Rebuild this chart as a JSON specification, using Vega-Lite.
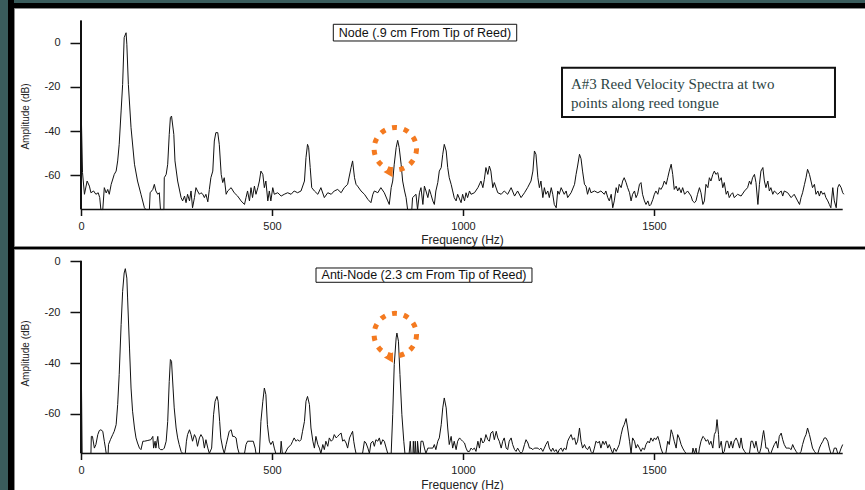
{
  "$schema": "https://vega.github.io/schema/vega-lite/v6.json",
  "background": "#000000",
  "padding": 0,
  "config": {"font": "Liberation Sans", "view": {"stroke": null}},
  "datasets": {
    "node": [
      {"hz":0,"db":-26.4},{"hz":4,"db":-58.8},{"hz":9,"db":-68.6},{"hz":16,"db":-62.6},{"hz":22,"db":-64.9},{"hz":26,"db":-67.9},{"hz":33,"db":-67.1},{"hz":39,"db":-68.6},{"hz":45,"db":-67.9},{"hz":49,"db":-70.1},{"hz":52,"db":-75.5},{"hz":57,"db":-75.5},{"hz":61,"db":-65.6},{"hz":66,"db":-68.0},{"hz":70,"db":-66.4},{"hz":74,"db":-68.6},{"hz":79,"db":-64.1},{"hz":87,"db":-59.6},{"hz":92,"db":-58.1},{"hz":96,"db":-53.5},{"hz":100,"db":-46.0},{"hz":105,"db":-30.9},{"hz":109,"db":-18.9},{"hz":113,"db":2.3},{"hz":118,"db":4.5},{"hz":120,"db":-0.7},{"hz":124,"db":-18.9},{"hz":131,"db":-38.5},{"hz":140,"db":-55.0},{"hz":148,"db":-62.6},{"hz":157,"db":-68.6},{"hz":166,"db":-74.7},{"hz":170,"db":-75.5},{"hz":179,"db":-75.5},{"hz":181,"db":-67.9},{"hz":188,"db":-66.4},{"hz":192,"db":-64.1},{"hz":196,"db":-67.1},{"hz":201,"db":-68.6},{"hz":205,"db":-67.9},{"hz":208,"db":-75.5},{"hz":217,"db":-75.5},{"hz":218,"db":-61.1},{"hz":223,"db":-59.6},{"hz":227,"db":-55.0},{"hz":231,"db":-41.5},{"hz":234,"db":-33.9},{"hz":237,"db":-33.2},{"hz":243,"db":-41.5},{"hz":246,"db":-53.5},{"hz":253,"db":-62.6},{"hz":262,"db":-70.1},{"hz":266,"db":-71.6},{"hz":271,"db":-69.4},{"hz":275,"db":-72.4},{"hz":279,"db":-68.6},{"hz":284,"db":-71.6},{"hz":288,"db":-67.1},{"hz":292,"db":-74.7},{"hz":297,"db":-70.1},{"hz":301,"db":-65.6},{"hz":305,"db":-67.1},{"hz":310,"db":-68.6},{"hz":314,"db":-67.9},{"hz":319,"db":-68.6},{"hz":323,"db":-70.1},{"hz":327,"db":-68.6},{"hz":332,"db":-72.0},{"hz":336,"db":-66.4},{"hz":340,"db":-61.1},{"hz":345,"db":-58.1},{"hz":349,"db":-44.5},{"hz":353,"db":-40.7},{"hz":358,"db":-40.7},{"hz":362,"db":-46.0},{"hz":367,"db":-59.6},{"hz":371,"db":-63.3},{"hz":375,"db":-61.1},{"hz":380,"db":-68.6},{"hz":384,"db":-67.1},{"hz":393,"db":-65.6},{"hz":401,"db":-67.9},{"hz":410,"db":-69.4},{"hz":419,"db":-71.6},{"hz":428,"db":-73.2},{"hz":432,"db":-70.1},{"hz":436,"db":-67.1},{"hz":441,"db":-71.6},{"hz":445,"db":-65.6},{"hz":449,"db":-70.1},{"hz":454,"db":-64.9},{"hz":458,"db":-68.6},{"hz":463,"db":-65.6},{"hz":467,"db":-62.6},{"hz":471,"db":-58.1},{"hz":476,"db":-59.6},{"hz":480,"db":-65.6},{"hz":484,"db":-62.6},{"hz":489,"db":-71.6},{"hz":493,"db":-67.1},{"hz":497,"db":-71.6},{"hz":502,"db":-65.6},{"hz":506,"db":-68.6},{"hz":515,"db":-67.9},{"hz":524,"db":-69.4},{"hz":532,"db":-68.6},{"hz":541,"db":-67.9},{"hz":550,"db":-68.6},{"hz":558,"db":-67.1},{"hz":567,"db":-67.9},{"hz":576,"db":-67.1},{"hz":585,"db":-62.6},{"hz":589,"db":-52.0},{"hz":593,"db":-46.0},{"hz":596,"db":-47.5},{"hz":600,"db":-56.5},{"hz":604,"db":-65.6},{"hz":611,"db":-67.1},{"hz":620,"db":-68.6},{"hz":628,"db":-65.6},{"hz":637,"db":-70.1},{"hz":646,"db":-67.9},{"hz":655,"db":-68.6},{"hz":663,"db":-67.1},{"hz":672,"db":-66.4},{"hz":681,"db":-67.9},{"hz":689,"db":-65.6},{"hz":698,"db":-64.1},{"hz":707,"db":-56.5},{"hz":711,"db":-53.5},{"hz":716,"db":-61.1},{"hz":720,"db":-64.1},{"hz":724,"db":-64.9},{"hz":733,"db":-67.1},{"hz":742,"db":-68.6},{"hz":751,"db":-70.9},{"hz":759,"db":-72.4},{"hz":764,"db":-68.6},{"hz":768,"db":-67.1},{"hz":777,"db":-67.9},{"hz":785,"db":-65.6},{"hz":794,"db":-67.9},{"hz":803,"db":-71.6},{"hz":807,"db":-73.2},{"hz":812,"db":-65.6},{"hz":816,"db":-62.6},{"hz":820,"db":-55.0},{"hz":825,"db":-47.5},{"hz":829,"db":-44.2},{"hz":833,"db":-47.5},{"hz":838,"db":-55.0},{"hz":842,"db":-62.6},{"hz":847,"db":-67.1},{"hz":851,"db":-70.1},{"hz":855,"db":-75.5},{"hz":866,"db":-75.5},{"hz":868,"db":-70.1},{"hz":877,"db":-68.6},{"hz":881,"db":-75.5},{"hz":886,"db":-67.9},{"hz":890,"db":-65.6},{"hz":895,"db":-73.2},{"hz":899,"db":-64.9},{"hz":903,"db":-67.1},{"hz":908,"db":-70.1},{"hz":912,"db":-66.4},{"hz":916,"db":-68.6},{"hz":921,"db":-71.6},{"hz":925,"db":-73.2},{"hz":929,"db":-67.1},{"hz":934,"db":-63.3},{"hz":938,"db":-58.1},{"hz":943,"db":-56.5},{"hz":947,"db":-50.5},{"hz":951,"db":-46.0},{"hz":956,"db":-49.0},{"hz":960,"db":-56.5},{"hz":964,"db":-61.1},{"hz":969,"db":-64.1},{"hz":973,"db":-67.1},{"hz":977,"db":-70.1},{"hz":982,"db":-71.6},{"hz":986,"db":-68.6},{"hz":995,"db":-72.4},{"hz":999,"db":-68.6},{"hz":1004,"db":-71.6},{"hz":1008,"db":-67.9},{"hz":1012,"db":-70.1},{"hz":1017,"db":-67.1},{"hz":1021,"db":-68.6},{"hz":1030,"db":-67.9},{"hz":1039,"db":-65.6},{"hz":1047,"db":-62.6},{"hz":1052,"db":-65.6},{"hz":1056,"db":-61.8},{"hz":1060,"db":-56.5},{"hz":1065,"db":-59.6},{"hz":1069,"db":-55.8},{"hz":1073,"db":-58.1},{"hz":1078,"db":-65.6},{"hz":1082,"db":-63.3},{"hz":1091,"db":-67.9},{"hz":1100,"db":-68.6},{"hz":1108,"db":-67.1},{"hz":1117,"db":-68.6},{"hz":1126,"db":-65.6},{"hz":1135,"db":-69.4},{"hz":1143,"db":-67.1},{"hz":1152,"db":-70.1},{"hz":1161,"db":-67.9},{"hz":1169,"db":-65.6},{"hz":1178,"db":-62.6},{"hz":1183,"db":-58.1},{"hz":1187,"db":-49.0},{"hz":1191,"db":-50.5},{"hz":1196,"db":-61.1},{"hz":1200,"db":-65.6},{"hz":1204,"db":-62.6},{"hz":1209,"db":-70.1},{"hz":1213,"db":-65.6},{"hz":1217,"db":-68.6},{"hz":1222,"db":-67.1},{"hz":1226,"db":-70.1},{"hz":1231,"db":-65.6},{"hz":1235,"db":-68.6},{"hz":1239,"db":-73.2},{"hz":1244,"db":-74.7},{"hz":1248,"db":-67.1},{"hz":1252,"db":-68.6},{"hz":1257,"db":-65.6},{"hz":1261,"db":-67.1},{"hz":1265,"db":-68.6},{"hz":1270,"db":-67.1},{"hz":1274,"db":-70.1},{"hz":1283,"db":-67.9},{"hz":1292,"db":-64.1},{"hz":1296,"db":-59.6},{"hz":1300,"db":-55.8},{"hz":1305,"db":-50.5},{"hz":1309,"db":-52.5},
      {"hz":1313,"db":-58.1},{"hz":1318,"db":-64.1},{"hz":1322,"db":-64.9},{"hz":1326,"db":-68.6},{"hz":1331,"db":-65.6},{"hz":1335,"db":-67.9},{"hz":1344,"db":-67.1},{"hz":1353,"db":-67.9},{"hz":1361,"db":-67.1},{"hz":1370,"db":-68.6},{"hz":1374,"db":-67.1},{"hz":1379,"db":-70.1},{"hz":1383,"db":-71.6},{"hz":1388,"db":-68.6},{"hz":1392,"db":-74.7},{"hz":1396,"db":-71.6},{"hz":1401,"db":-65.6},{"hz":1405,"db":-67.9},{"hz":1409,"db":-64.1},{"hz":1414,"db":-65.6},{"hz":1418,"db":-62.6},{"hz":1422,"db":-61.1},{"hz":1427,"db":-63.3},{"hz":1431,"db":-65.6},{"hz":1436,"db":-67.9},{"hz":1440,"db":-71.6},{"hz":1444,"db":-68.6},{"hz":1449,"db":-67.1},{"hz":1453,"db":-70.1},{"hz":1457,"db":-68.6},{"hz":1462,"db":-64.1},{"hz":1466,"db":-63.3},{"hz":1470,"db":-68.6},{"hz":1475,"db":-71.6},{"hz":1479,"db":-73.2},{"hz":1484,"db":-71.6},{"hz":1488,"db":-73.9},{"hz":1492,"db":-73.2},{"hz":1497,"db":-70.9},{"hz":1501,"db":-68.6},{"hz":1505,"db":-67.1},{"hz":1510,"db":-68.6},{"hz":1514,"db":-65.6},{"hz":1518,"db":-66.4},{"hz":1523,"db":-64.9},{"hz":1527,"db":-62.6},{"hz":1532,"db":-64.1},{"hz":1536,"db":-61.1},{"hz":1540,"db":-58.1},{"hz":1545,"db":-55.0},{"hz":1549,"db":-59.6},{"hz":1553,"db":-66.4},{"hz":1558,"db":-64.9},{"hz":1562,"db":-67.1},{"hz":1566,"db":-65.6},{"hz":1571,"db":-67.9},{"hz":1575,"db":-65.6},{"hz":1580,"db":-68.6},{"hz":1588,"db":-67.1},{"hz":1597,"db":-69.4},{"hz":1601,"db":-71.6},{"hz":1606,"db":-72.4},{"hz":1610,"db":-71.6},{"hz":1614,"db":-68.6},{"hz":1619,"db":-65.6},{"hz":1623,"db":-67.9},{"hz":1628,"db":-73.2},{"hz":1632,"db":-71.6},{"hz":1636,"db":-64.1},{"hz":1641,"db":-65.6},{"hz":1645,"db":-61.1},{"hz":1649,"db":-62.6},{"hz":1654,"db":-59.6},{"hz":1658,"db":-58.1},{"hz":1662,"db":-59.6},{"hz":1667,"db":-58.8},{"hz":1671,"db":-62.6},{"hz":1676,"db":-61.1},{"hz":1680,"db":-65.6},{"hz":1684,"db":-63.3},{"hz":1689,"db":-68.6},{"hz":1693,"db":-67.1},{"hz":1697,"db":-70.1},{"hz":1702,"db":-68.6},{"hz":1706,"db":-67.9},{"hz":1710,"db":-70.1},{"hz":1719,"db":-68.6},{"hz":1728,"db":-69.4},{"hz":1737,"db":-67.1},{"hz":1745,"db":-65.6},{"hz":1750,"db":-62.6},{"hz":1754,"db":-64.1},{"hz":1758,"db":-61.1},{"hz":1763,"db":-59.6},{"hz":1767,"db":-63.3},{"hz":1772,"db":-73.2},{"hz":1776,"db":-64.1},{"hz":1780,"db":-58.1},{"hz":1785,"db":-56.5},{"hz":1789,"db":-62.6},{"hz":1793,"db":-65.6},{"hz":1798,"db":-62.6},{"hz":1802,"db":-67.1},{"hz":1806,"db":-65.6},{"hz":1811,"db":-68.6},{"hz":1815,"db":-67.1},{"hz":1824,"db":-68.6},{"hz":1833,"db":-67.1},{"hz":1837,"db":-69.4},{"hz":1841,"db":-67.1},{"hz":1850,"db":-67.9},{"hz":1859,"db":-70.1},{"hz":1867,"db":-68.6},{"hz":1876,"db":-71.6},{"hz":1881,"db":-73.2},{"hz":1885,"db":-70.1},{"hz":1889,"db":-67.9},{"hz":1894,"db":-64.1},{"hz":1898,"db":-61.1},{"hz":1902,"db":-57.3},{"hz":1907,"db":-59.6},{"hz":1911,"db":-62.6},{"hz":1915,"db":-65.6},{"hz":1920,"db":-64.1},{"hz":1924,"db":-68.6},{"hz":1929,"db":-67.1},{"hz":1933,"db":-69.4},{"hz":1937,"db":-67.1},{"hz":1942,"db":-68.6},{"hz":1946,"db":-67.9},{"hz":1950,"db":-70.1},{"hz":1955,"db":-71.6},{"hz":1959,"db":-73.2},{"hz":1963,"db":-74.7},{"hz":1968,"db":-65.6},{"hz":1972,"db":-71.6},{"hz":1977,"db":-74.7},{"hz":1981,"db":-65.6},{"hz":1985,"db":-64.1},{"hz":1990,"db":-65.6},{"hz":1994,"db":-67.9},{"hz":1997,"db":-68.6}
    ],
    "antinode": [
      {"hz":0,"db":-30.1},{"hz":3,"db":-75.5},{"hz":26,"db":-75.5},{"hz":27,"db":-68.8},{"hz":30,"db":-68.8},{"hz":35,"db":-73.4},{"hz":39,"db":-72.0},{"hz":44,"db":-68.1},{"hz":48,"db":-66.5},{"hz":52,"db":-66.2},{"hz":57,"db":-66.8},{"hz":61,"db":-70.7},{"hz":64,"db":-73.4},{"hz":66,"db":-75.5},{"hz":71,"db":-75.5},{"hz":72,"db":-72.0},{"hz":77,"db":-70.1},{"hz":83,"db":-68.1},{"hz":87,"db":-66.8},{"hz":92,"db":-64.2},{"hz":96,"db":-56.3},{"hz":100,"db":-44.5},{"hz":105,"db":-24.9},{"hz":109,"db":-11.8},{"hz":113,"db":-4.6},{"hz":116,"db":-2.9},{"hz":120,"db":-6.6},{"hz":122,"db":-14.4},{"hz":127,"db":-34.1},{"hz":131,"db":-49.8},{"hz":135,"db":-58.9},{"hz":140,"db":-65.5},{"hz":144,"db":-69.4},{"hz":148,"db":-71.4},{"hz":153,"db":-73.4},{"hz":157,"db":-74.0},{"hz":162,"db":-70.7},{"hz":166,"db":-70.7},{"hz":175,"db":-70.4},{"hz":183,"db":-70.1},{"hz":188,"db":-68.8},{"hz":190,"db":-73.4},{"hz":194,"db":-70.7},{"hz":196,"db":-73.4},{"hz":201,"db":-68.8},{"hz":204,"db":-73.4},{"hz":208,"db":-74.0},{"hz":214,"db":-74.0},{"hz":218,"db":-73.4},{"hz":223,"db":-70.7},{"hz":227,"db":-62.9},{"hz":231,"db":-47.2},{"hz":234,"db":-38.6},{"hz":237,"db":-39.3},{"hz":241,"db":-49.8},{"hz":244,"db":-57.6},{"hz":249,"db":-65.5},{"hz":253,"db":-69.4},{"hz":257,"db":-72.0},{"hz":262,"db":-74.7},{"hz":266,"db":-75.5},{"hz":273,"db":-75.5},{"hz":276,"db":-70.7},{"hz":279,"db":-68.1},{"hz":284,"db":-66.2},{"hz":288,"db":-68.1},{"hz":292,"db":-70.7},{"hz":297,"db":-68.1},{"hz":301,"db":-69.4},{"hz":305,"db":-72.7},{"hz":310,"db":-69.4},{"hz":314,"db":-68.1},{"hz":319,"db":-69.4},{"hz":323,"db":-73.4},{"hz":327,"db":-70.1},{"hz":332,"db":-73.4},{"hz":336,"db":-75.5},{"hz":342,"db":-73.4},{"hz":347,"db":-60.3},{"hz":351,"db":-55.0},{"hz":356,"db":-53.1},{"hz":359,"db":-55.0},{"hz":363,"db":-62.9},{"hz":366,"db":-69.4},{"hz":371,"db":-73.4},{"hz":375,"db":-75.5},{"hz":380,"db":-72.0},{"hz":384,"db":-69.4},{"hz":388,"db":-66.8},{"hz":393,"db":-66.2},{"hz":397,"db":-68.8},{"hz":401,"db":-68.8},{"hz":406,"db":-69.4},{"hz":410,"db":-73.4},{"hz":414,"db":-75.5},{"hz":428,"db":-75.5},{"hz":432,"db":-72.0},{"hz":436,"db":-70.7},{"hz":445,"db":-70.7},{"hz":451,"db":-70.7},{"hz":456,"db":-73.4},{"hz":458,"db":-75.5},{"hz":467,"db":-75.5},{"hz":471,"db":-62.9},{"hz":476,"db":-55.0},{"hz":480,"db":-49.8},{"hz":484,"db":-52.4},{"hz":488,"db":-64.2},{"hz":493,"db":-70.7},{"hz":497,"db":-72.0},{"hz":502,"db":-70.7},{"hz":506,"db":-73.4},{"hz":510,"db":-75.5},{"hz":522,"db":-75.5},{"hz":524,"db":-70.7},{"hz":527,"db":-75.5},{"hz":534,"db":-75.5},{"hz":541,"db":-73.4},{"hz":550,"db":-72.0},{"hz":554,"db":-70.7},{"hz":558,"db":-69.4},{"hz":563,"db":-70.7},{"hz":567,"db":-70.1},{"hz":572,"db":-70.7},{"hz":576,"db":-70.1},{"hz":580,"db":-66.8},{"hz":585,"db":-62.9},{"hz":589,"db":-55.0},{"hz":593,"db":-53.1},{"hz":598,"db":-56.3},{"hz":602,"db":-65.5},{"hz":607,"db":-70.7},{"hz":611,"db":-73.4},{"hz":615,"db":-68.8},{"hz":620,"db":-72.0},{"hz":624,"db":-73.4},{"hz":628,"db":-75.5},{"hz":633,"db":-72.0},{"hz":637,"db":-74.0},{"hz":641,"db":-70.7},{"hz":646,"db":-72.7},{"hz":650,"db":-69.4},{"hz":655,"db":-70.7},{"hz":659,"db":-70.1},{"hz":663,"db":-68.1},{"hz":668,"db":-69.4},{"hz":672,"db":-68.8},{"hz":676,"db":-68.1},{"hz":681,"db":-67.5},{"hz":685,"db":-70.7},{"hz":689,"db":-70.1},{"hz":694,"db":-71.4},{"hz":698,"db":-73.4},{"hz":703,"db":-69.4},{"hz":707,"db":-68.1},{"hz":711,"db":-66.8},{"hz":714,"db":-70.7},{"hz":717,"db":-73.4},{"hz":720,"db":-75.5},{"hz":737,"db":-75.5},{"hz":742,"db":-70.7},{"hz":746,"db":-71.4},{"hz":751,"db":-73.4},{"hz":755,"db":-75.5},{"hz":759,"db":-71.4},{"hz":764,"db":-70.7},{"hz":768,"db":-72.7},{"hz":772,"db":-70.1},{"hz":777,"db":-70.7},{"hz":781,"db":-69.4},{"hz":785,"db":-72.0},{"hz":790,"db":-70.1},{"hz":794,"db":-70.7},{"hz":799,"db":-73.4},{"hz":803,"db":-75.5},{"hz":812,"db":-75.5},{"hz":816,"db":-60.3},{"hz":820,"db":-40.6},{"hz":825,"db":-30.1},{"hz":827,"db":-28.2},{"hz":831,"db":-31.4},{"hz":835,"db":-44.5},{"hz":840,"db":-60.3},{"hz":845,"db":-70.7},{"hz":848,"db":-75.5},{"hz":859,"db":-75.5},{"hz":862,"db":-70.7},{"hz":864,"db":-75.5},{"hz":869,"db":-75.5},{"hz":870,"db":-70.7},{"hz":872,"db":-75.5},{"hz":874,"db":-75.5},{"hz":875,"db":-70.7},{"hz":877,"db":-75.5},{"hz":880,"db":-75.5},{"hz":881,"db":-70.7},{"hz":884,"db":-75.5},{"hz":888,"db":-75.5},{"hz":890,"db":-70.7},{"hz":895,"db":-70.7},{"hz":899,"db":-73.4},{"hz":903,"db":-75.5},{"hz":908,"db":-73.4},{"hz":912,"db":-73.4},{"hz":916,"db":-73.4},{"hz":921,"db":-73.4},{"hz":925,"db":-72.0},{"hz":929,"db":-74.0},{"hz":934,"db":-70.7},{"hz":938,"db":-69.4},{"hz":943,"db":-64.2},{"hz":947,"db":-57.6},{"hz":951,"db":-53.7},{"hz":956,"db":-57.6},{"hz":960,"db":-65.5},{"hz":964,"db":-72.0},{"hz":969,"db":-68.8},{"hz":973,"db":-73.4},{"hz":977,"db":-70.7},{"hz":982,"db":-74.0},{"hz":986,"db":-70.7},{"hz":991,"db":-69.4},{"hz":995,"db":-70.1},{"hz":999,"db":-70.7},{"hz":1004,"db":-71.4},{"hz":1008,"db":-73.4},{"hz":1012,"db":-74.7},{"hz":1017,"db":-74.7},{"hz":1021,"db":-73.4},{"hz":1025,"db":-74.0},{"hz":1030,"db":-73.4},{"hz":1034,"db":-74.7},{"hz":1039,"db":-70.7},{"hz":1043,"db":-73.4},{"hz":1047,"db":-69.4},{"hz":1052,"db":-71.4},{"hz":1056,"db":-70.7},{"hz":1060,"db":-68.1},{"hz":1065,"db":-70.1},{"hz":1069,"db":-70.7},{"hz":1073,"db":-67.5},{"hz":1078,"db":-66.8},{"hz":1082,"db":-70.1},{"hz":1087,"db":-66.8},{"hz":1091,"db":-69.4},{"hz":1095,"db":-70.7},{"hz":1100,"db":-73.4},{"hz":1104,"db":-70.7},{"hz":1108,"db":-69.4},{"hz":1113,"db":-73.4},{"hz":1117,"db":-74.0},{"hz":1121,"db":-70.7},{"hz":1126,"db":-69.4},{"hz":1130,"db":-72.0},{"hz":1135,"db":-74.0},{"hz":1139,"db":-74.7},{"hz":1143,"db":-73.4},{"hz":1148,"db":-74.7},{"hz":1152,"db":-75.5},{"hz":1156,"db":-74.7},{"hz":1161,"db":-72.0},{"hz":1165,"db":-70.1},{"hz":1170,"db":-71.4},{"hz":1174,"db":-73.4},{"hz":1178,"db":-73.4},{"hz":1183,"db":-74.0},{"hz":1187,"db":-73.4},{"hz":1191,"db":-73.4},{"hz":1196,"db":-73.4},{"hz":1200,"db":-74.0},{"hz":1204,"db":-73.4},{"hz":1209,"db":-74.7},{"hz":1213,"db":-73.4},{"hz":1217,"db":-72.0},{"hz":1222,"db":-70.7},{"hz":1226,"db":-73.4},{"hz":1231,"db":-74.7},{"hz":1235,"db":-73.4},{"hz":1239,"db":-74.7},{"hz":1244,"db":-74.0},{"hz":1248,"db":-75.5},{"hz":1252,"db":-74.0},{"hz":1257,"db":-73.4},{"hz":1261,"db":-74.7},{"hz":1265,"db":-73.4},{"hz":1270,"db":-74.0},{"hz":1274,"db":-70.7},{"hz":1278,"db":-69.4},{"hz":1283,"db":-68.1},{"hz":1287,"db":-70.1},{"hz":1292,"db":-69.4},{"hz":1296,"db":-72.0},{"hz":1300,"db":-70.7},{"hz":1305,"db":-65.5},{"hz":1309,"db":-70.7},
      {"hz":1313,"db":-73.4},{"hz":1318,"db":-72.0},{"hz":1322,"db":-73.4},{"hz":1326,"db":-74.0},{"hz":1331,"db":-72.7},{"hz":1335,"db":-74.7},{"hz":1340,"db":-75.5},{"hz":1344,"db":-73.4},{"hz":1348,"db":-70.7},{"hz":1353,"db":-71.4},{"hz":1357,"db":-70.7},{"hz":1361,"db":-73.4},{"hz":1366,"db":-70.7},{"hz":1370,"db":-72.0},{"hz":1374,"db":-70.7},{"hz":1379,"db":-73.4},{"hz":1383,"db":-72.0},{"hz":1388,"db":-74.0},{"hz":1392,"db":-75.5},{"hz":1396,"db":-73.4},{"hz":1401,"db":-74.7},{"hz":1405,"db":-73.4},{"hz":1409,"db":-72.0},{"hz":1414,"db":-68.1},{"hz":1418,"db":-65.5},{"hz":1422,"db":-64.2},{"hz":1427,"db":-61.8},{"hz":1431,"db":-65.5},{"hz":1436,"db":-70.7},{"hz":1440,"db":-75.5},{"hz":1444,"db":-69.4},{"hz":1449,"db":-70.7},{"hz":1453,"db":-73.4},{"hz":1457,"db":-72.0},{"hz":1462,"db":-73.4},{"hz":1466,"db":-74.7},{"hz":1470,"db":-73.4},{"hz":1475,"db":-74.0},{"hz":1479,"db":-72.0},{"hz":1484,"db":-70.7},{"hz":1488,"db":-71.4},{"hz":1492,"db":-69.4},{"hz":1497,"db":-70.7},{"hz":1501,"db":-69.4},{"hz":1505,"db":-70.1},{"hz":1510,"db":-68.8},{"hz":1514,"db":-70.7},{"hz":1518,"db":-73.4},{"hz":1523,"db":-75.5},{"hz":1531,"db":-75.5},{"hz":1536,"db":-70.7},{"hz":1540,"db":-72.0},{"hz":1545,"db":-66.2},{"hz":1549,"db":-68.1},{"hz":1553,"db":-70.7},{"hz":1558,"db":-73.4},{"hz":1562,"db":-68.1},{"hz":1566,"db":-69.4},{"hz":1571,"db":-72.0},{"hz":1575,"db":-73.4},{"hz":1580,"db":-74.7},{"hz":1584,"db":-75.5},{"hz":1600,"db":-75.5},{"hz":1602,"db":-73.4},{"hz":1606,"db":-75.5},{"hz":1610,"db":-73.4},{"hz":1612,"db":-75.5},{"hz":1617,"db":-75.5},{"hz":1619,"db":-73.4},{"hz":1623,"db":-70.7},{"hz":1628,"db":-68.8},{"hz":1632,"db":-69.4},{"hz":1636,"db":-70.7},{"hz":1641,"db":-70.1},{"hz":1645,"db":-72.0},{"hz":1649,"db":-70.7},{"hz":1654,"db":-73.4},{"hz":1658,"db":-68.1},{"hz":1662,"db":-66.8},{"hz":1665,"db":-62.2},{"hz":1669,"db":-68.1},{"hz":1671,"db":-73.4},{"hz":1676,"db":-70.7},{"hz":1680,"db":-75.5},{"hz":1684,"db":-74.7},{"hz":1689,"db":-70.7},{"hz":1693,"db":-70.7},{"hz":1697,"db":-73.4},{"hz":1702,"db":-70.7},{"hz":1706,"db":-73.4},{"hz":1710,"db":-70.7},{"hz":1715,"db":-69.4},{"hz":1719,"db":-70.7},{"hz":1724,"db":-73.4},{"hz":1728,"db":-69.4},{"hz":1732,"db":-73.4},{"hz":1737,"db":-74.7},{"hz":1741,"db":-75.5},{"hz":1750,"db":-75.5},{"hz":1754,"db":-70.7},{"hz":1758,"db":-70.7},{"hz":1763,"db":-73.4},{"hz":1767,"db":-70.7},{"hz":1772,"db":-74.7},{"hz":1776,"db":-75.5},{"hz":1780,"db":-73.4},{"hz":1785,"db":-68.1},{"hz":1787,"db":-66.5},{"hz":1791,"db":-70.7},{"hz":1793,"db":-73.4},{"hz":1798,"db":-73.4},{"hz":1802,"db":-75.5},{"hz":1806,"db":-75.5},{"hz":1811,"db":-73.4},{"hz":1815,"db":-72.0},{"hz":1820,"db":-70.7},{"hz":1824,"db":-73.4},{"hz":1828,"db":-68.8},{"hz":1833,"db":-67.5},{"hz":1837,"db":-70.1},{"hz":1841,"db":-72.0},{"hz":1846,"db":-73.4},{"hz":1850,"db":-73.4},{"hz":1854,"db":-73.4},{"hz":1859,"db":-74.0},{"hz":1863,"db":-72.0},{"hz":1867,"db":-73.4},{"hz":1872,"db":-74.7},{"hz":1876,"db":-75.5},{"hz":1881,"db":-75.5},{"hz":1885,"db":-74.7},{"hz":1889,"db":-72.0},{"hz":1894,"db":-69.4},{"hz":1898,"db":-68.1},{"hz":1902,"db":-65.5},{"hz":1907,"db":-68.1},{"hz":1911,"db":-70.7},{"hz":1915,"db":-73.4},{"hz":1920,"db":-74.7},{"hz":1924,"db":-75.5},{"hz":1929,"db":-75.5},{"hz":1933,"db":-73.4},{"hz":1937,"db":-72.0},{"hz":1942,"db":-70.7},{"hz":1946,"db":-69.4},{"hz":1950,"db":-69.4},{"hz":1955,"db":-70.7},{"hz":1959,"db":-73.4},{"hz":1963,"db":-75.5},{"hz":1968,"db":-75.5},{"hz":1972,"db":-73.4},{"hz":1977,"db":-73.4},{"hz":1981,"db":-75.5},{"hz":1985,"db":-75.5},{"hz":1990,"db":-73.4},{"hz":1994,"db":-72.0}
    ]
  },
  "hconcat": [
    {
      "width": 8,
      "height": 490,
      "view": {"fill": "#3a5c5c", "stroke": null},
      "data": {"values": [{}]},
      "mark": {"type": "point", "opacity": 0, "size": 0, "strokeWidth": 0},
      "encoding": {}
    },
    {
      "spacing": 4,
      "vconcat": [
        {
          "width": 852,
          "height": 3,
          "view": {"fill": "#3a5c5c", "stroke": null},
          "data": {"values": [{}]},
          "mark": {"type": "point", "opacity": 0, "size": 0, "strokeWidth": 0},
          "encoding": {}
        },
        {
          "spacing": 1,
          "vconcat": [
            {
              "width": 852,
              "height": 238,
              "view": {"fill": "#ffffff", "stroke": "#8c8c8c", "strokeWidth": 1},
              "layer": [
                {
                  "data": {"name": "node"},
                  "mark": {"type": "line", "color": "#111111", "strokeWidth": 1},
                  "encoding": {
                    "x": {
                      "field": "hz", "type": "quantitative",
                      "scale": {"domain": [-175.4, 2055], "nice": false, "zero": false},
                      "axis": {
                        "values": [0, 500, 1000, 1500], "labelExpr": "'' + datum.value",
                        "domain": false, "grid": false, "offset": -36.5,
                        "tickSize": 6, "tickWidth": 1.5, "tickColor": "#111111",
                        "labelPadding": 5, "labelFontSize": 11, "labelColor": "#222222", "labelFlush": false, "labelOverlap": false,
                        "title": "Frequency (Hz)", "titleX": 448, "titleY": 33.5, "titleAlign": "center", "titleBaseline": "alphabetic",
                        "titleFontSize": 12, "titleFontWeight": "normal", "titleColor": "#222222"
                      }
                    },
                    "y": {
                      "field": "db", "type": "quantitative",
                      "scale": {"domain": [-92.0, 15.7], "nice": false, "zero": false},
                      "axis": {
                        "values": [0, -20, -40, -60], "labelExpr": "'' + datum.value",
                        "domain": false, "grid": false, "offset": -67,
                        "tickSize": 11, "tickWidth": 1.5, "tickColor": "#111111",
                        "labelPadding": 10, "labelFontSize": 11, "labelColor": "#222222", "labelFlush": false, "labelOverlap": false,
                        "title": "Amplitude (dB)", "titleX": -56, "titleY": 108, "titleAngle": -90, "titleAlign": "center", "titleBaseline": "middle",
                        "titleFontSize": 10, "titleFontWeight": "normal", "titleColor": "#222222"
                      }
                    }
                  }
                },
                {
                  "data": {"values": [{}]},
                  "mark": {"type": "rule", "color": "#111111", "strokeWidth": 2},
                  "encoding": {"x": {"datum": 0}, "y": {"datum": -75.5}, "y2": {"datum": 10.1}}
                },
                {
                  "data": {"values": [{}]},
                  "mark": {"type": "rule", "color": "#111111", "strokeWidth": 1.5},
                  "encoding": {"x": {"datum": 0}, "x2": {"datum": 1994}, "y": {"datum": -75.5}}
                },
                {
                  "data": {"values": [{}]},
                  "mark": {"type": "rect", "fill": "#ffffff", "stroke": "#111111", "strokeWidth": 1},
                  "encoding": {"x": {"datum": 660.5}, "x2": {"datum": 1140.6}, "y": {"datum": 8.33}, "y2": {"datum": 0.77}}
                },
                {
                  "data": {"values": [{"label": "Node (.9 cm From Tip of Reed)"}]},
                  "mark": {"type": "text", "font": "Liberation Sans", "fontSize": 12.5, "color": "#111111", "align": "center", "baseline": "middle"},
                  "encoding": {"x": {"datum": 900.5}, "y": {"datum": 4.5}, "text": {"field": "label"}}
                },
                {
                  "data": {"values": [{}]},
                  "mark": {"type": "rect", "fill": "#ffffff", "stroke": "#111111", "strokeWidth": 2},
                  "encoding": {"x": {"datum": 1259.2}, "x2": {"datum": 1973.8}, "y": {"datum": -11.31}, "y2": {"datum": -33.62}}
                },
                {
                  "data": {"values": [{"label": "A#3 Reed Velocity Spectra at two"}]},
                  "mark": {"type": "text", "font": "Liberation Serif", "fontSize": 15, "color": "#2c4444", "align": "left", "baseline": "middle"},
                  "encoding": {"x": {"datum": 1282.7}, "y": {"datum": -18.55}, "text": {"field": "label"}}
                },
                {
                  "data": {"values": [{"label": "points along reed tongue"}]},
                  "mark": {"type": "text", "font": "Liberation Serif", "fontSize": 15, "color": "#2c4444", "align": "left", "baseline": "middle"},
                  "encoding": {"x": {"datum": 1282.7}, "y": {"datum": -27.15}, "text": {"field": "label"}}
                },
                {
                  "data": {"values": [{}]},
                  "mark": {"type": "point", "shape": "circle", "filled": false, "opacity": 1, "size": 1800, "stroke": "#f47a20", "strokeWidth": 5, "strokeDash": [5, 7]},
                  "encoding": {"x": {"datum": 822.8}, "y": {"datum": -48.0}}
                },
                {
                  "data": {"values": [{}]},
                  "mark": {"type": "point", "shape": "triangle-left", "filled": true, "opacity": 1, "size": 110, "color": "#f47a20", "angle": 0},
                  "encoding": {"x": {"datum": 804}, "y": {"datum": -58.5}}
                }
              ]
            },
            {
              "width": 852,
              "height": 243,
              "view": {"fill": "#ffffff", "stroke": "#8c8c8c", "strokeWidth": 1},
              "layer": [
                {
                  "data": {"name": "antinode"},
                  "mark": {"type": "line", "color": "#111111", "strokeWidth": 1},
                  "encoding": {
                    "x": {
                      "field": "hz", "type": "quantitative",
                      "scale": {"domain": [-175.4, 2055], "nice": false, "zero": false},
                      "axis": {
                        "values": [0, 500, 1000, 1500], "labelExpr": "'' + datum.value",
                        "domain": false, "grid": false, "offset": -38.5,
                        "tickSize": 6, "tickWidth": 1.5, "tickColor": "#111111",
                        "labelPadding": 5, "labelFontSize": 11, "labelColor": "#222222", "labelFlush": false, "labelOverlap": false,
                        "title": "Frequency (Hz)", "titleX": 448, "titleY": 34.5, "titleAlign": "center", "titleBaseline": "alphabetic",
                        "titleFontSize": 12, "titleFontWeight": "normal", "titleColor": "#222222"
                      }
                    },
                    "y": {
                      "field": "db", "type": "quantitative",
                      "scale": {"domain": [-90.65, 4.83], "nice": false, "zero": false},
                      "axis": {
                        "values": [0, -20, -40, -60], "labelExpr": "'' + datum.value",
                        "domain": false, "grid": false, "offset": -67,
                        "tickSize": 11, "tickWidth": 1.5, "tickColor": "#111111",
                        "labelPadding": 10, "labelFontSize": 11, "labelColor": "#222222", "labelFlush": false, "labelOverlap": false,
                        "title": "Amplitude (dB)", "titleX": -56, "titleY": 104, "titleAngle": -90, "titleAlign": "center", "titleBaseline": "middle",
                        "titleFontSize": 10, "titleFontWeight": "normal", "titleColor": "#222222"
                      }
                    }
                  }
                },
                {
                  "data": {"values": [{}]},
                  "mark": {"type": "rule", "color": "#111111", "strokeWidth": 2},
                  "encoding": {"x": {"datum": 0}, "y": {"datum": -75.5}, "y2": {"datum": 0.2}}
                },
                {
                  "data": {"values": [{}]},
                  "mark": {"type": "rule", "color": "#111111", "strokeWidth": 1.5},
                  "encoding": {"x": {"datum": 0}, "x2": {"datum": 1994}, "y": {"datum": -75.5}}
                },
                {
                  "data": {"values": [{}]},
                  "mark": {"type": "rect", "fill": "#ffffff", "stroke": "#111111", "strokeWidth": 1},
                  "encoding": {"x": {"datum": 615.2}, "x2": {"datum": 1180.6}, "y": {"datum": -2.63}, "y2": {"datum": -8.25}}
                },
                {
                  "data": {"values": [{"label": "Anti-Node (2.3 cm From Tip of Reed)"}]},
                  "mark": {"type": "text", "font": "Liberation Sans", "fontSize": 12.5, "color": "#111111", "align": "center", "baseline": "middle"},
                  "encoding": {"x": {"datum": 898}, "y": {"datum": -5.38}, "text": {"field": "label"}}
                },
                {
                  "data": {"values": [{}]},
                  "mark": {"type": "point", "shape": "circle", "filled": false, "opacity": 1, "size": 1800, "stroke": "#f47a20", "strokeWidth": 5, "strokeDash": [5, 7]},
                  "encoding": {"x": {"datum": 822.8}, "y": {"datum": -28.8}}
                },
                {
                  "data": {"values": [{}]},
                  "mark": {"type": "point", "shape": "triangle-left", "filled": true, "opacity": 1, "size": 110, "color": "#f47a20", "angle": 0},
                  "encoding": {"x": {"datum": 805}, "y": {"datum": -37.8}}
                }
              ]
            }
          ]
        }
      ]
    }
  ],
  "spacing": 5
}
